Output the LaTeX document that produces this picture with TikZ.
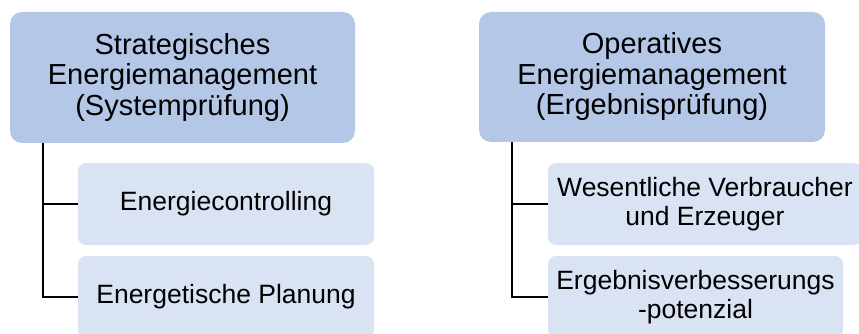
\documentclass[tikz,border=0pt]{standalone}
\usepackage{fontspec}
\setmainfont{Liberation Sans}
\definecolor{topfill}{HTML}{B4C7E7}
\definecolor{childfill}{HTML}{DAE3F3}
\begin{document}
\begin{tikzpicture}[x=1pt,y=1pt,
  topbox/.style={fill=topfill, rounded corners=12pt, align=center, inner sep=0pt,
    font=\fontsize{29}{30.5}\selectfont},
  childbox/.style={fill=childfill, rounded corners=8pt, align=center, inner sep=0pt,
    minimum height=82pt, font=\fontsize{26.5}{29}\selectfont},
  conn/.style={draw=black, line width=2pt}]
\useasboundingbox (0,0) rectangle (859,-334);
\node[topbox, minimum width=345pt, minimum height=131pt] (ltop) at (182.5,-77.5)
  {Strategisches\\Energiemanagement\\(Systemprüfung)};
\node[topbox, minimum width=346pt, minimum height=130pt] (rtop) at (652,-77)
  {Operatives\\Energiemanagement\\(Ergebnisprüfung)};
\node[childbox, minimum width=296pt] (lc1) at (226,-204) {Energiecontrolling};
\node[childbox, minimum width=296pt] (lc2) at (226,-297) {Energetische Planung};
\node[childbox, minimum width=314pt] (rc1) at (705,-204) {Wesentliche Verbraucher\\und Erzeuger};
\node[childbox, minimum width=295pt] (rc2) at (695.5,-297) {Ergebnisverbesserungs\\-potenzial};
\draw[conn] ([xshift=33pt]ltop.south west) |- (lc1.west);
\draw[conn] ([xshift=33pt]ltop.south west) |- (lc2.west);
\draw[conn] ([xshift=33pt]rtop.south west) |- (rc1.west);
\draw[conn] ([xshift=33pt]rtop.south west) |- (rc2.west);
\end{tikzpicture}
\end{document}
